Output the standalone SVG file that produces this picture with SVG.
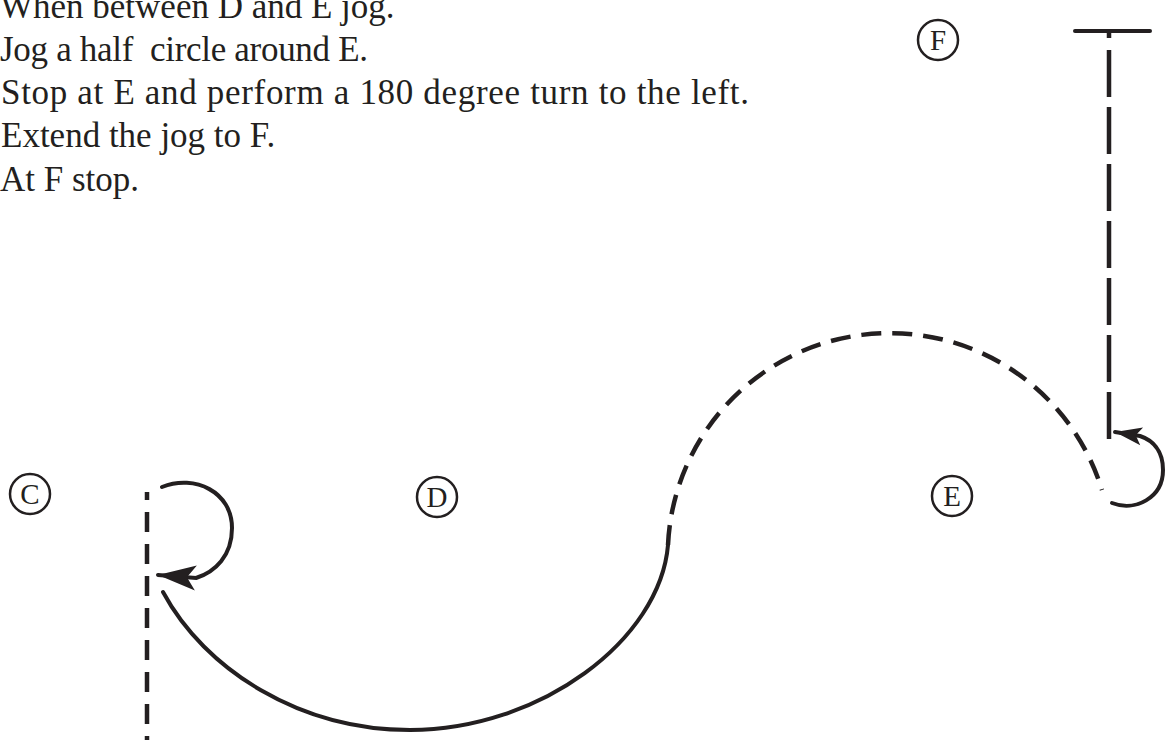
<svg xmlns="http://www.w3.org/2000/svg" width="1168" height="740" viewBox="0 0 1168 740">
  <style>
    .txt { font-family: "Liberation Serif", "Times New Roman", serif; font-size: 35px; fill: #231f20; }
    .lbl { font-family: "Liberation Serif", "Times New Roman", serif; font-size: 29px; fill: #231f20; text-anchor: middle; }
    .ring { fill: none; stroke: #231f20; stroke-width: 2.5; }
    .solid { fill: none; stroke: #231f20; stroke-width: 4; stroke-linecap: round; }
    .dash { fill: none; stroke: #231f20; stroke-width: 4.5; }
  </style>
  <defs>
    <marker id="arrowBig" markerUnits="userSpaceOnUse" markerWidth="44" markerHeight="32" viewBox="-40 -16 44 32" refX="0" refY="0" orient="auto">
      <path d="M0,0 L-38,-12.5 L-29,0 L-38,12.5 Z" fill="#231f20"/>
    </marker>
    <marker id="arrowSmall" markerUnits="userSpaceOnUse" markerWidth="32" markerHeight="24" viewBox="-30 -12 32 24" refX="0" refY="0" orient="auto">
      <path d="M0,0 L-27,-9 L-21,0 L-27,9 Z" fill="#231f20"/>
    </marker>
  </defs>
  <rect width="1168" height="740" fill="#ffffff"/>
  <g id="instructions">
    <text class="txt" x="0" y="18">When between D and E jog.</text>
    <text class="txt" x="0" y="61" textLength="368" lengthAdjust="spacing">Jog a half&#160; circle around E.</text>
    <text class="txt" x="1" y="104" textLength="748" lengthAdjust="spacing">Stop at E and perform a 180 degree turn to the left.</text>
    <text class="txt" x="1" y="147">Extend the jog to F.</text>
    <text class="txt" x="0" y="191">At F stop.</text>
  </g>
  <g id="node-C">
    <circle class="ring" cx="30" cy="494" r="20"/>
    <text class="lbl" x="30" y="504">C</text>
  </g>
  <g id="node-D">
    <circle class="ring" cx="437" cy="497" r="20"/>
    <text class="lbl" x="437" y="507">D</text>
  </g>
  <g id="node-E">
    <circle class="ring" cx="952" cy="496" r="20"/>
    <text class="lbl" x="952" y="506">E</text>
  </g>
  <g id="node-F">
    <circle class="ring" cx="938" cy="40" r="20"/>
    <text class="lbl" x="938" y="50">F</text>
  </g>
  <g id="connectors">
    <path class="dash" d="M147,492 V740" stroke-dasharray="8 12 20 12 20 12 20 12 20 12 20 12 20 12 20 12 20 12"/>
    <path class="solid" d="M162,487 C195,474 232,492 232,528 C232,556 215,572 196,578 L158,575" marker-end="url(#arrowBig)"/>
    <path class="solid" d="M163,592 C205,670 300,730 410,730 C540,730 660,640 668,545"/>
    <path class="dash" d="M668,545 A222,222 0 0 1 1102,490" stroke-dasharray="20 11"/>
    <path class="solid" d="M1112,503 C1135,512 1163,498 1163,470 C1163,450 1152,440 1140,436 L1115,432" marker-end="url(#arrowSmall)"/>
    <path class="dash" d="M1109,32 V447" stroke-dasharray="6 12 47 10 47 10 47 10 47 10 47 10 47 10 47 10 47 10"/>
    <path class="solid" d="M1075,31 H1150"/>
  </g>
</svg>
